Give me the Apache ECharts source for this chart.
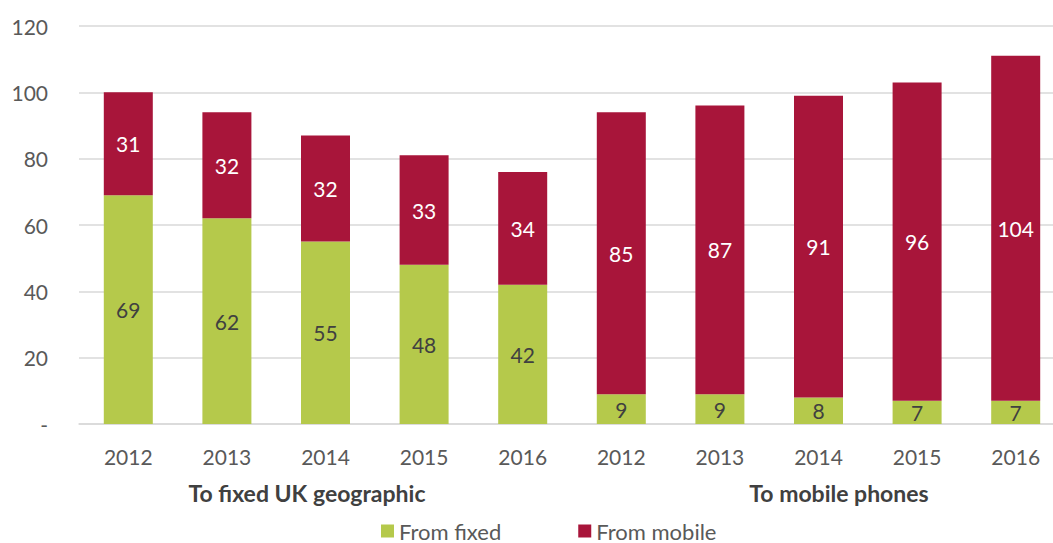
<!DOCTYPE html>
<html>
<head>
<meta charset="utf-8">
<script src="https://cdn.jsdelivr.net/npm/echarts@6/dist/echarts.min.js"></script>
<style>
  html, body { margin: 0; padding: 0; background: #fff; overflow: hidden; }
  #chart { width: 1066px; height: 543px; }
</style>
</head>
<body>
<div id="chart"></div>
<script>
const years = ["2012", "2013", "2014", "2015", "2016", "2012", "2013", "2014", "2015", "2016"];
const groups = ["To fixed UK geographic", "To mobile phones"];
const fromFixed = [69, 62, 55, 48, 42, 9, 9, 8, 7, 7];
const fromMobile = [31, 32, 32, 33, 34, 85, 87, 91, 96, 104];

const chart = echarts.init(document.getElementById("chart"), null, { renderer: "svg" });
const font = "Lato, 'Open Sans', sans-serif";

chart.setOption({
  animation: false,
  textStyle: { fontFamily: font },
  grid: { left: 79, right: 1, top: 26, bottom: 119 },
  legend: {
    data: ["From fixed", "From mobile"],
    top: 515,
    left: 376,
    itemWidth: 13,
    itemHeight: 13,
    itemGap: 77,
    icon: "rect",
    textStyle: { fontSize: 22, color: "#595959", fontFamily: font }
  },
  xAxis: [
    {
      type: "category",
      data: years,
      axisLine: { lineStyle: { color: "#d9d9d9", width: 1.5 } },
      axisTick: { show: false },
      axisLabel: { fontSize: 21, color: "#595959", margin: 22 }
    },
    {
      type: "category",
      data: groups,
      position: "bottom",
      axisLine: { show: false },
      axisTick: { show: false },
      axisLabel: {
        margin: 57,
        formatter: (v, i) => i === 0 ? "{a|" + v + "}" : "{b|" + v + "}",
        rich: {
          a: { fontSize: 23, fontWeight: "bold", color: "#404040", padding: [0, 37, 0, 0], fontFamily: font },
          b: { fontSize: 23, fontWeight: "bold", color: "#404040", padding: [0, 0, 0, 41], fontFamily: font }
        }
      }
    }
  ],
  yAxis: {
    type: "value",
    min: 0,
    max: 120,
    interval: 20,
    axisLine: { show: false },
    axisTick: { show: false },
    splitLine: { lineStyle: { color: "#d9d9d9", width: 1.5 } },
    axisLabel: {
      fontSize: 21,
      color: "#595959",
      margin: 31,
      formatter: v => v === 0 ? "-" : String(v)
    }
  },
  series: [
    {
      name: "From fixed",
      type: "bar",
      stack: "total",
      barWidth: 49,
      data: fromFixed,
      itemStyle: { color: "#b5c94b" },
      label: { show: true, position: "inside", fontSize: 21, color: "#404040", fontFamily: font }
    },
    {
      name: "From mobile",
      type: "bar",
      stack: "total",
      barWidth: 49,
      data: fromMobile,
      itemStyle: { color: "#a8153a" },
      label: { show: true, position: "inside", fontSize: 21, color: "#ffffff", fontFamily: font }
    }
  ]
});
</script>
</body>
</html>
